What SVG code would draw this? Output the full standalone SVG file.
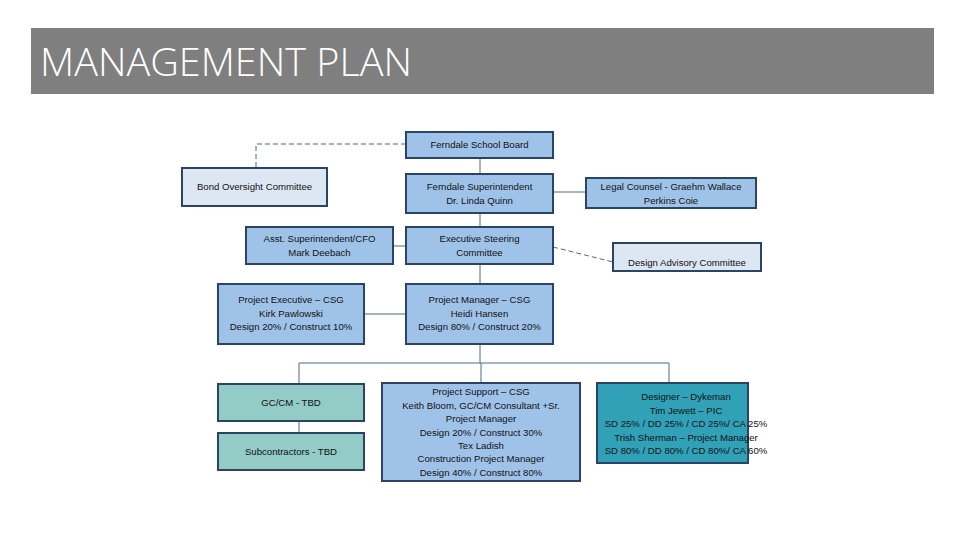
<svg xmlns="http://www.w3.org/2000/svg" width="960" height="540" viewBox="0 0 960 540">
<style>
.b{fill:#9fc3e8;stroke:#2a4466;stroke-width:2}
.l{fill:#dde7f3;stroke:#2a4466;stroke-width:2}
.g{fill:#93cbc6;stroke:#2a4466;stroke-width:2}
.d{fill:#31a1b8;stroke:#2a4466;stroke-width:2}
text{font-family:"Liberation Sans",Arial,sans-serif;font-size:9.6px;fill:#111;text-anchor:middle}
.c{fill:none;stroke:#4a6a8c;stroke-width:1}
.dash{fill:none;stroke:#4a6a8c;stroke-width:1;stroke-dasharray:5,3}
</style>
<rect width="960" height="540" fill="#fff"/>
<g id="title">
<rect x="31" y="28" width="903" height="66" fill="#7f7f7f"/>
<text x="40" y="76" style="font-family:'Open Sans','Liberation Sans',sans-serif;font-weight:300;font-size:39px;fill:#fff;text-anchor:start" textLength="372" lengthAdjust="spacingAndGlyphs">MANAGEMENT PLAN</text>
</g>
<g id="connectors">
<path class="dash" d="M406 144 H256 V168"/>
<path class="dash" d="M553 247 L613 262"/>
<path class="c" d="M480 158 V174"/>
<path class="c" d="M480 213 V227"/>
<path class="c" d="M553 192 H586"/>
<path class="c" d="M393 246 H406"/>
<path class="c" d="M480 264 V284"/>
<path class="c" d="M364 314 H406"/>
<path class="c" d="M480 344 V363"/>
<path class="c" d="M299 363 H669"/>
<path class="c" d="M299 363 V384"/>
<path class="c" d="M481 363 V383"/>
<path class="c" d="M669 363 V383"/>
<path class="c" d="M299 421 V433"/>
</g>
<g id="school-board">
<rect class="b" x="406" y="132" width="147" height="26"/>
<text x="479.5" y="148">Ferndale School Board</text>
</g>
<g id="bond-oversight">
<rect class="l" x="182" y="168" width="145" height="38"/>
<text x="254.5" y="190">Bond Oversight Committee</text>
</g>
<g id="superintendent">
<rect class="b" x="406" y="174" width="147" height="39"/>
<text x="479.5" y="190">Ferndale Superintendent</text>
<text x="479.5" y="203.5">Dr. Linda Quinn</text>
</g>
<g id="legal-counsel">
<rect class="b" x="586" y="178" width="170" height="30"/>
<text x="671" y="190">Legal Counsel - Graehm Wallace</text>
<text x="671" y="203.5">Perkins Coie</text>
</g>
<g id="asst-superintendent">
<rect class="b" x="246" y="227" width="147" height="37"/>
<text x="319.5" y="242">Asst. Superintendent/CFO</text>
<text x="319.5" y="255.5">Mark Deebach</text>
</g>
<g id="exec-steering">
<rect class="b" x="406" y="227" width="147" height="37"/>
<text x="479.5" y="242">Executive Steering</text>
<text x="479.5" y="255.5">Committee</text>
</g>
<g id="design-advisory">
<rect class="l" x="613" y="243" width="148" height="28"/>
<text x="687" y="266">Design Advisory Committee</text>
</g>
<g id="project-executive">
<rect class="b" x="218" y="284" width="146" height="60"/>
<text x="291" y="303">Project Executive – CSG</text>
<text x="291" y="316.5">Kirk Pawlowski</text>
<text x="291" y="330">Design 20% / Construct 10%</text>
</g>
<g id="project-manager">
<rect class="b" x="406" y="284" width="147" height="60"/>
<text x="479.5" y="303">Project Manager – CSG</text>
<text x="479.5" y="316.5">Heidi Hansen</text>
<text x="479.5" y="330">Design 80% / Construct 20%</text>
</g>
<g id="gc-cm">
<rect class="g" x="218" y="384" width="146" height="37"/>
<text x="291" y="406">GC/CM - TBD</text>
</g>
<g id="subcontractors">
<rect class="g" x="218" y="433" width="146" height="37"/>
<text x="291" y="455">Subcontractors - TBD</text>
</g>
<g id="project-support">
<rect class="b" x="382" y="383" width="198" height="98"/>
<text x="481" y="395">Project Support – CSG</text>
<text x="481" y="408.5">Keith Bloom, GC/CM Consultant +Sr.</text>
<text x="481" y="422">Project Manager</text>
<text x="481" y="435.5">Design 20% / Construct 30%</text>
<text x="481" y="449">Tex Ladish</text>
<text x="481" y="462">Construction Project Manager</text>
<text x="481" y="475.5">Design 40% / Construct 80%</text>
</g>
<g id="designer">
<rect class="d" x="597" y="383" width="151" height="80"/>
<text x="686" y="400">Designer – Dykeman</text>
<text x="686" y="413.5">Tim Jewett – PIC</text>
<text x="686" y="427">SD 25% / DD 25% / CD 25%/ CA 25%</text>
<text x="686" y="440.5">Trish Sherman – Project Manager</text>
<text x="686" y="454">SD 80% / DD 80% / CD 80%/ CA 60%</text>
</g>
</svg>
